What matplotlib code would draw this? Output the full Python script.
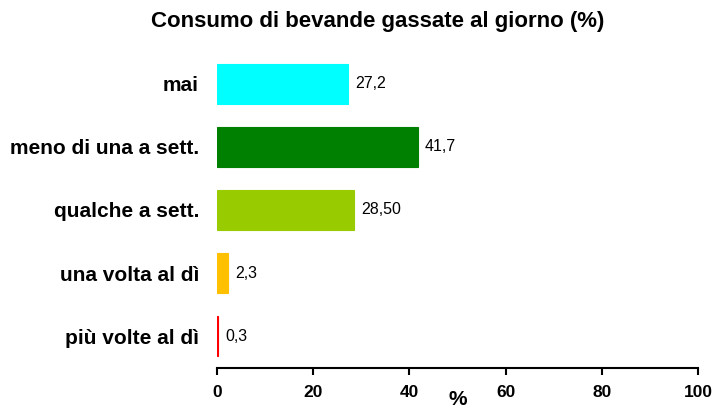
import matplotlib.pyplot as plt

plt.rcParams['font.family'] = ['Liberation Sans', 'DejaVu Sans']

categories = ["mai", "meno di una a sett.", "qualche a sett.",
              "una volta al dì", "più volte al dì"]
values = [27.2, 41.7, 28.5, 2.3, 0.3]
value_labels = ["27,2", "41,7", "28,50", "2,3", "0,3"]
colors = ["#00FFFF", "#008000", "#99CC00", "#FFC000", "#FF0000"]
xticks = [0, 20, 40, 60, 80, 100]

fig = plt.figure(figsize=(7.15, 4.12), dpi=100)
ax = fig.add_axes([217 / 715, 44 / 412, 481 / 715, 316 / 412])

pos = list(range(len(categories)))
ax.barh(pos, values, height=0.63, color=colors, edgecolor=colors, linewidth=0.8)
for p, v, lab in zip(pos, values, value_labels):
    ax.annotate(lab, (v, p), xytext=(5, 0), textcoords="offset points",
                va="center", ha="left", fontsize=11.5)

ax.set_xlim(0, 100)
ax.set_ylim(4.5, -0.5)
ax.set_yticks(pos)
ax.set_yticklabels(categories, fontsize=15, fontweight="bold")
ax.tick_params(axis="y", length=0, pad=13)
ax.set_xticks(xticks)
ax.set_xticklabels([str(t) for t in xticks], fontsize=12.5, fontweight="bold")
ax.tick_params(axis="x", length=5, width=1.5, pad=7)
for s in ["top", "right", "left"]:
    ax.spines[s].set_visible(False)
ax.spines["bottom"].set_linewidth(1.5)

ax.set_xlabel("%", fontsize=15, fontweight="bold", labelpad=-7)
fig.text(378 / 715, 1 - 22 / 412, "Consumo di bevande gassate al giorno (%)",
         ha="center", va="center", fontsize=16, fontweight="bold")

fig.savefig("out.png", dpi=100)
